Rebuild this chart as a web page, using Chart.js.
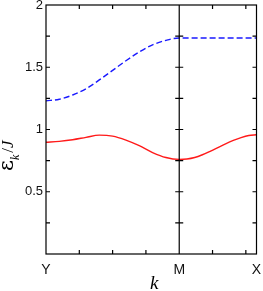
<!DOCTYPE html>
<html>
<head>
<meta charset="utf-8">
<script src="https://cdn.jsdelivr.net/npm/chart.js@4"></script>
<style>
  html, body { margin: 0; padding: 0; background: #fff; }
  #wrap { width: 263px; height: 291px; }
</style>
</head>
<body>
<div id="wrap"><canvas id="bandChart" width="263" height="291"></canvas></div>
<script>
// path positions along Y -> M -> X
const kPos = [0, 0.1, 0.2, 0.3, 0.4, 0.5, 0.6, 0.7, 0.8, 0.9, 1.0,
              1.058, 1.116, 1.174, 1.232, 1.29, 1.348, 1.406, 1.464, 1.522, 1.58];
const upperBand = [1.23, 1.243, 1.277, 1.327, 1.398, 1.475, 1.552, 1.623, 1.68, 1.716, 1.735,
                   1.735, 1.735, 1.735, 1.735, 1.735, 1.735, 1.735, 1.735, 1.735, 1.735];
const lowerBand = [0.897, 0.905, 0.918, 0.937, 0.955, 0.947, 0.915, 0.87, 0.815, 0.775, 0.76,
                   0.763, 0.775, 0.797, 0.825, 0.855, 0.885, 0.912, 0.935, 0.952, 0.958];
const xTicks = [0, 0.25, 0.5, 0.75, 1, 1.25, 1.5, 1.58];
const xLabels = { 0: 'Y', 1: 'M', 1.58: 'X' };
const yLabels = [0.5, 1, 1.5, 2];

function toPoints(vals) {
    return kPos.map(function (k, i) { return { x: k, y: vals[i] }; });
}

function noPad(scale) {
    scale.paddingLeft = 0;
    scale.paddingRight = 0;
    scale.paddingTop = 0;
    scale.paddingBottom = 0;
}

// frame, inward ticks, M line and axis titles
const framePlugin = {
    id: 'frame',
    afterDraw: function (chart) {
        const ctx = chart.ctx;
        const a = chart.chartArea;
        const xs = chart.scales.x, ys = chart.scales.y;
        const tl = 4;
        ctx.save();
        ctx.strokeStyle = '#000';
        ctx.lineWidth = 1.2;
        ctx.strokeRect(a.left, a.top, a.right - a.left, a.bottom - a.top);
        const mx = xs.getPixelForValue(1);
        ctx.beginPath();
        ctx.moveTo(mx, a.top);
        ctx.lineTo(mx, a.bottom);
        xs.ticks.forEach(function (t) {
            if (t.value <= 0 || t.value >= 1.58) return;
            const px = xs.getPixelForValue(t.value);
            ctx.moveTo(px, a.bottom); ctx.lineTo(px, a.bottom - tl);
            ctx.moveTo(px, a.top); ctx.lineTo(px, a.top + tl);
        });
        ys.ticks.forEach(function (t) {
            if (t.value <= 0 || t.value >= 2) return;
            const py = ys.getPixelForValue(t.value);
            ctx.moveTo(a.left, py); ctx.lineTo(a.left + tl, py);
            ctx.moveTo(a.right, py); ctx.lineTo(a.right - tl, py);
            ctx.moveTo(mx - tl, py); ctx.lineTo(mx + tl, py);
        });
        ctx.stroke();

        ctx.fillStyle = '#000';
        // x title
        ctx.font = 'italic 19px "Liberation Serif"';
        ctx.textAlign = 'center';
        ctx.textBaseline = 'alphabetic';
        ctx.fillText('k', (a.left + a.right) / 2 + 3, 289);

        // y title, rotated
        ctx.translate(13, 171);
        ctx.rotate(-Math.PI / 2);
        ctx.textAlign = 'left';
        ctx.font = '21px "DejaVu Serif"';
        ctx.fillText('\u03b5', 0, 0);
        let w = ctx.measureText('\u03b5').width;
        ctx.font = 'italic 12px "Liberation Serif"';
        ctx.fillText('k', w, 6);
        w += ctx.measureText('k').width + 2;
        ctx.font = '17px "Liberation Serif"';
        ctx.fillText('/', w, 0);
        w += ctx.measureText('/').width;
        ctx.font = 'italic 17px "Liberation Serif"';
        ctx.fillText('J', w, 0);
        ctx.restore();
    }
};

Chart.defaults.font.family = '"Liberation Sans", Arial, sans-serif';
Chart.defaults.color = '#111';

new Chart(document.getElementById('bandChart').getContext('2d'), {
    type: 'line',
    data: {
        datasets: [{
            data: toPoints(upperBand),
            borderColor: '#1a1aff',
            borderWidth: 1.4,
            borderDash: [6, 3],
            pointRadius: 0,
            cubicInterpolationMode: 'monotone',
            fill: false
        }, {
            data: toPoints(lowerBand),
            borderColor: '#ff1a1a',
            borderWidth: 1.4,
            pointRadius: 0,
            cubicInterpolationMode: 'monotone',
            fill: false
        }]
    },
    options: {
        responsive: false,
        animation: false,
        layout: { padding: { top: 5, right: 6.5, left: 0, bottom: 0 } },
        plugins: { legend: { display: false }, tooltip: { enabled: false } },
        scales: {
            x: {
                type: 'linear',
                min: 0,
                max: 1.58,
                afterBuildTicks: function (scale) {
                    scale.ticks = xTicks.map(function (v) { return { value: v }; });
                },
                afterFit: function (scale) { scale.height = 37; noPad(scale); },
                grid: { display: false, drawTicks: false },
                border: { display: false },
                ticks: {
                    padding: 8,
                    maxRotation: 0,
                    autoSkip: false,
                    font: { size: 14 },
                    callback: function (v) { return xLabels[v] || ''; }
                }
            },
            y: {
                min: 0,
                max: 2,
                afterFit: function (scale) { scale.width = 46; noPad(scale); },
                grid: { display: false, drawTicks: false },
                border: { display: false },
                ticks: {
                    stepSize: 0.25,
                    padding: 3,
                    font: { size: 13 },
                    callback: function (v) { return yLabels.indexOf(v) >= 0 ? String(v) : ''; }
                }
            }
        }
    },
    plugins: [framePlugin]
});
</script>
</body>
</html>
